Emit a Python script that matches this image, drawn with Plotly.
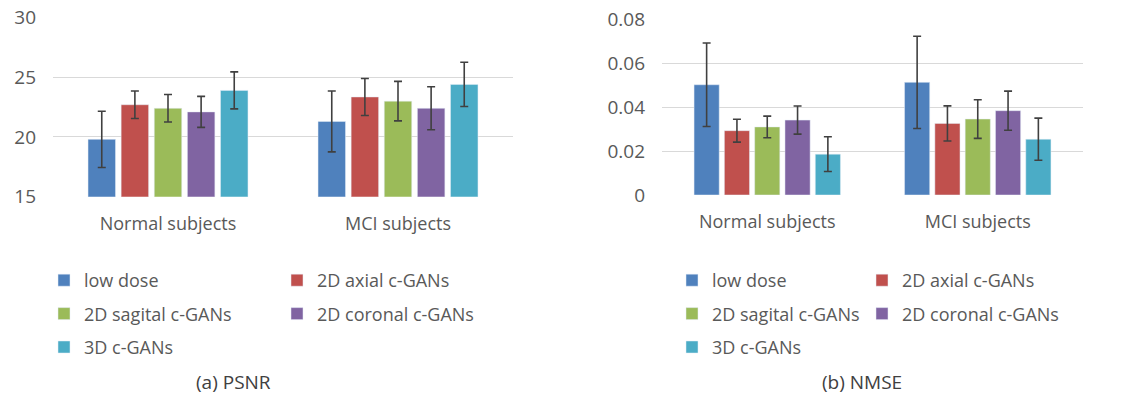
import plotly.graph_objects as go

categories = ["Normal subjects", "MCI subjects"]
series = ["low dose", "2D axial c-GANs", "2D sagital c-GANs", "2D coronal c-GANs", "3D c-GANs"]
colors = ["#4F81BD", "#C0504D", "#9BBB59", "#8064A2", "#4BACC6"]

# PSNR means and std (per series: [Normal, MCI])
psnr_mean = [[19.8, 21.3], [22.7, 23.35], [22.4, 23.0], [22.1, 22.4], [23.9, 24.4]]
psnr_err = [[2.35, 2.55], [1.15, 1.55], [1.15, 1.65], [1.3, 1.8], [1.55, 1.85]]

# NMSE means and std
nmse_mean = [[0.0502, 0.0513], [0.0293, 0.0326], [0.0310, 0.0346], [0.0341, 0.0384], [0.0186, 0.0254]]
nmse_err = [[0.0190, 0.0210], [0.0052, 0.0080], [0.0049, 0.0088], [0.0064, 0.0089], [0.0079, 0.0096]]

# legend column assignment per series
left_legends = ["legend", "legend2", "legend", "legend2", "legend"]
right_legends = ["legend3", "legend4", "legend3", "legend4", "legend3"]

FONT = "Open Sans"
TXT = "#595959"
W, H = 1147, 399

fig = go.Figure()
for i, s in enumerate(series):
    fig.add_trace(go.Bar(
        x=categories, y=psnr_mean[i], name=s, marker_color=colors[i],
        error_y=dict(type="data", array=psnr_err[i], color="#404040", thickness=1.6, width=4),
        xaxis="x", yaxis="y", legend=left_legends[i], legendgroup="L" + str(i),
    ))
for i, s in enumerate(series):
    fig.add_trace(go.Bar(
        x=categories, y=nmse_mean[i], name=s, marker_color=colors[i],
        error_y=dict(type="data", array=nmse_err[i], color="#404040", thickness=1.6, width=4),
        xaxis="x2", yaxis="y2", legend=right_legends[i], legendgroup="R" + str(i),
    ))

def px_x(p):
    return p / W

def px_y(p):
    return 1 - p / H

xcommon = dict(showline=False, zeroline=False, showgrid=False, ticks="",
               ticklabelstandoff=14, automargin=False,
               tickfont=dict(family=FONT, size=18, color=TXT))
ycommon = dict(showline=False, zeroline=False, showgrid=True, gridcolor="#D9D9D9",
               gridwidth=1.3, ticklabelstandoff=16, automargin=False,
               ticklabeloverflow="allow",
               tickfont=dict(family=FONT, size=19, color=TXT))

def leg(xpx, ypx):
    return dict(
        x=px_x(xpx), y=px_y(ypx),
        xanchor="left", yanchor="top",
        orientation="v", bgcolor="rgba(0,0,0,0)", borderwidth=0,
        font=dict(family=FONT, size=18, color=TXT),
        tracegroupgap=7, traceorder="grouped",
    )

fig.update_layout(
    width=W, height=H,
    margin=dict(l=0, r=0, t=0, b=0, pad=0, autoexpand=False),
    paper_bgcolor="white", plot_bgcolor="white",
    barmode="group", bargap=0.28, bargroupgap=0.17,
    xaxis=dict(domain=[px_x(53), px_x(513)], anchor="y", **xcommon),
    yaxis=dict(domain=[px_y(196.7), px_y(17.5)], anchor="x", range=[15, 30.001],
               tickvals=[15, 20, 25, 30], **ycommon),
    xaxis2=dict(domain=[px_x(662), px_x(1083)], anchor="y2", **xcommon),
    yaxis2=dict(domain=[px_y(195), px_y(19.3)], anchor="x2", range=[0, 0.08001],
                tickvals=[0, 0.02, 0.04, 0.06, 0.08], ticktext=["0", "0.02", "0.04", "0.06", "0.08"],
                **ycommon),
    legend=leg(44, 262),
    legend2=leg(277, 262),
    legend3=leg(672, 262),
    legend4=leg(862, 262),
    showlegend=True,
    annotations=[
        dict(text="(a) PSNR", x=px_x(233), y=px_y(382), xref="paper", yref="paper",
             showarrow=False, xanchor="center", yanchor="middle",
             font=dict(family=FONT, size=19, color="#404040")),
        dict(text="(b) NMSE", x=px_x(862), y=px_y(382), xref="paper", yref="paper",
             showarrow=False, xanchor="center", yanchor="middle",
             font=dict(family=FONT, size=19, color="#404040")),
    ],
)

fig.write_html("out.html", config={"displayModeBar": False},
               post_script="document.body.style.margin='0px';")
